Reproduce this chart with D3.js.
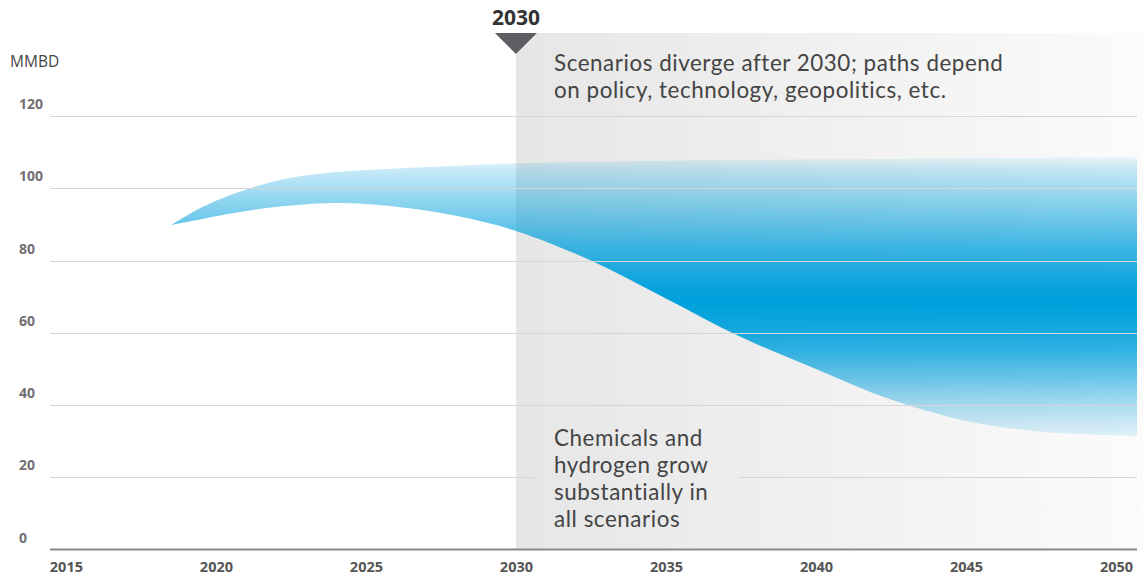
<!DOCTYPE html>
<html>
<head>
<meta charset="utf-8">
<script src="https://cdn.jsdelivr.net/npm/d3@7"></script>
<style>
  html, body { margin: 0; padding: 0; background: #fff; }
  svg { display: block; font-family: "Open Sans", "Noto Sans", sans-serif; }
</style>
</head>
<body>
<svg id="chart" width="1143" height="582"></svg>
<script>
// ---------------- data ----------------
var years = [2018.5, 2019.5, 2020.5, 2021.5, 2022.5, 2024, 2026, 2028, 2030, 2032.5, 2035, 2037.5, 2040, 2042.5, 2045, 2047.5, 2050.7];
var upperValues = [89.8, 94.6, 98.2, 100.9, 102.9, 104.5, 105.5, 106.2, 106.9, 107.3, 107.6, 107.8, 108, 108.1, 108.3, 108.4, 108.4];
var lowerValues = [89.8, 91.4, 93, 94.3, 95.2, 95.9, 94.9, 92.4, 88.2, 80, 69.5, 58.8, 50, 41.5, 35.6, 32.6, 31.4];

var yTicks = [0, 20, 40, 60, 80, 100, 120];
var xTicks = [2015, 2020, 2025, 2030, 2035, 2040, 2045, 2050];
var divergeYear = 2030;

var unitLabel = "MMBD";
var noteTop = ["Scenarios diverge after 2030; paths depend", "on policy, technology, geopolitics, etc."];
var noteBottom = ["Chemicals and", "hydrogen grow", "substantially in", "all scenarios"];

// band opacity by value (vertical fade)
var bandFade = [[110, 0.04], [108, 0.1], [105, 0.22], [100, 0.35], [92, 0.55], [83, 0.77], [72, 0.98], [68, 1], [62, 0.93], [55, 0.8], [47, 0.56], [40, 0.33], [36, 0.22], [31, 0.1], [29, 0.05]];

// ---------------- setup ----------------
var W = 1143, H = 582;
var left = 50, right = 1137;

var svg = d3.select("#chart");

var x = d3.scaleLinear().domain([2014.47, 2050.7]).range([left, right]);
var y = d3.scaleLinear().domain([0, 120]).range([549.5, 116]);

var defs = svg.append("defs");

// grey shade after 2030
var shade = defs.append("linearGradient")
  .attr("id", "shade")
  .attr("gradientUnits", "userSpaceOnUse")
  .attr("x1", x(divergeYear)).attr("x2", W)
  .attr("y1", 0).attr("y2", 0);
shade.append("stop").attr("offset", 0).attr("stop-color", "#e6e6e6");
shade.append("stop").attr("offset", 1).attr("stop-color", "#fbfbfb");

var y1 = y(110), y2 = y(29);
var band = defs.append("linearGradient")
  .attr("id", "band")
  .attr("gradientUnits", "userSpaceOnUse")
  .attr("x1", 0).attr("x2", 0)
  .attr("y1", y1).attr("y2", y2);
band.selectAll("stop")
  .data(bandFade)
  .enter()
  .append("stop")
  .attr("offset", function(d) { return (y(d[0]) - y1) / (y2 - y1); })
  .attr("stop-color", "#00a0dc")
  .attr("stop-opacity", function(d) { return d[1]; });

// shaded region
svg.append("rect")
  .attr("x", x(divergeYear))
  .attr("y", 33)
  .attr("width", W - x(divergeYear))
  .attr("height", y(0) - 33)
  .style("fill", "url(#shade)");

// band
var rows = years.map(function(yr, i) {
  return { year: yr, hi: upperValues[i], lo: lowerValues[i] };
});

var area = d3.area()
  .x(function(d) { return x(d.year); })
  .y0(function(d) { return y(d.lo); })
  .y1(function(d) { return y(d.hi); })
  .curve(d3.curveCatmullRom.alpha(0.5));

svg.append("path")
  .datum(rows)
  .attr("d", area)
  .style("fill", "url(#band)");

// gridlines
svg.append("g")
  .selectAll("line")
  .data(yTicks.filter(function(d) { return d > 0; }))
  .enter()
  .append("line")
  .attr("x1", left)
  .attr("x2", right)
  .attr("y1", function(d) { return Math.round(y(d)) + 0.5; })
  .attr("y2", function(d) { return Math.round(y(d)) + 0.5; })
  .style("stroke", "#d6d6d6")
  .style("stroke-width", 1);

// box behind bottom note hides the gridline
svg.append("rect")
  .attr("x", 535)
  .attr("y", 422)
  .attr("width", 203)
  .attr("height", 115)
  .style("fill", "url(#shade)");

// y labels
svg.append("g")
  .selectAll("text")
  .data(yTicks)
  .enter()
  .append("text")
  .attr("x", 19)
  .attr("y", function(d) { return y(d) - 7; })
  .text(function(d) { return d; })
  .style("font-size", "14px")
  .style("font-weight", "bold")
  .style("fill", "#707074");

svg.append("text")
  .attr("x", 10)
  .attr("y", 67)
  .text(unitLabel)
  .style("font-size", "15.5px")
  .style("fill", "#444");

// x axis
var xAxis = d3.axisBottom(x)
  .tickValues(xTicks)
  .tickFormat(d3.format("d"))
  .tickSize(0)
  .tickPadding(12);

var gx = svg.append("g")
  .attr("transform", "translate(0," + y(0) + ")")
  .call(xAxis);
gx.select(".domain")
  .attr("d", "M" + left + ",0H" + right)
  .style("stroke", "#8a8a8a")
  .style("stroke-width", 2);
gx.selectAll("text")
  .style("font-family", "\"Open Sans\", sans-serif")
  .style("font-size", "14.5px")
  .style("font-weight", "bold")
  .style("fill", "#555");

// 2030 marker
var mx = x(divergeYear);
svg.append("path")
  .attr("d", "M" + (mx - 21) + ",33L" + (mx + 21) + ",33L" + mx + ",54Z")
  .style("fill", "#5e5e62");
svg.append("text")
  .attr("x", mx)
  .attr("y", 25)
  .attr("text-anchor", "middle")
  .text(divergeYear)
  .style("font-size", "21px")
  .style("font-weight", "bold")
  .style("fill", "#333");

// notes (Lato keeps the 27px line pitch without the lines touching)
function note(lines, x0, y0) {
  svg.append("g")
    .selectAll("text")
    .data(lines)
    .enter()
    .append("text")
    .attr("x", x0)
    .attr("y", function(d, i) { return y0 + i * 27; })
    .text(function(d) { return d; })
    .style("font-family", "Lato, sans-serif")
    .style("font-size", "22.4px")
    .style("letter-spacing", "0.55px")
    .style("fill", "#444");
}

note(noteTop, 554, 71);
note(noteBottom, 554, 446);
</script>
</body>
</html>
